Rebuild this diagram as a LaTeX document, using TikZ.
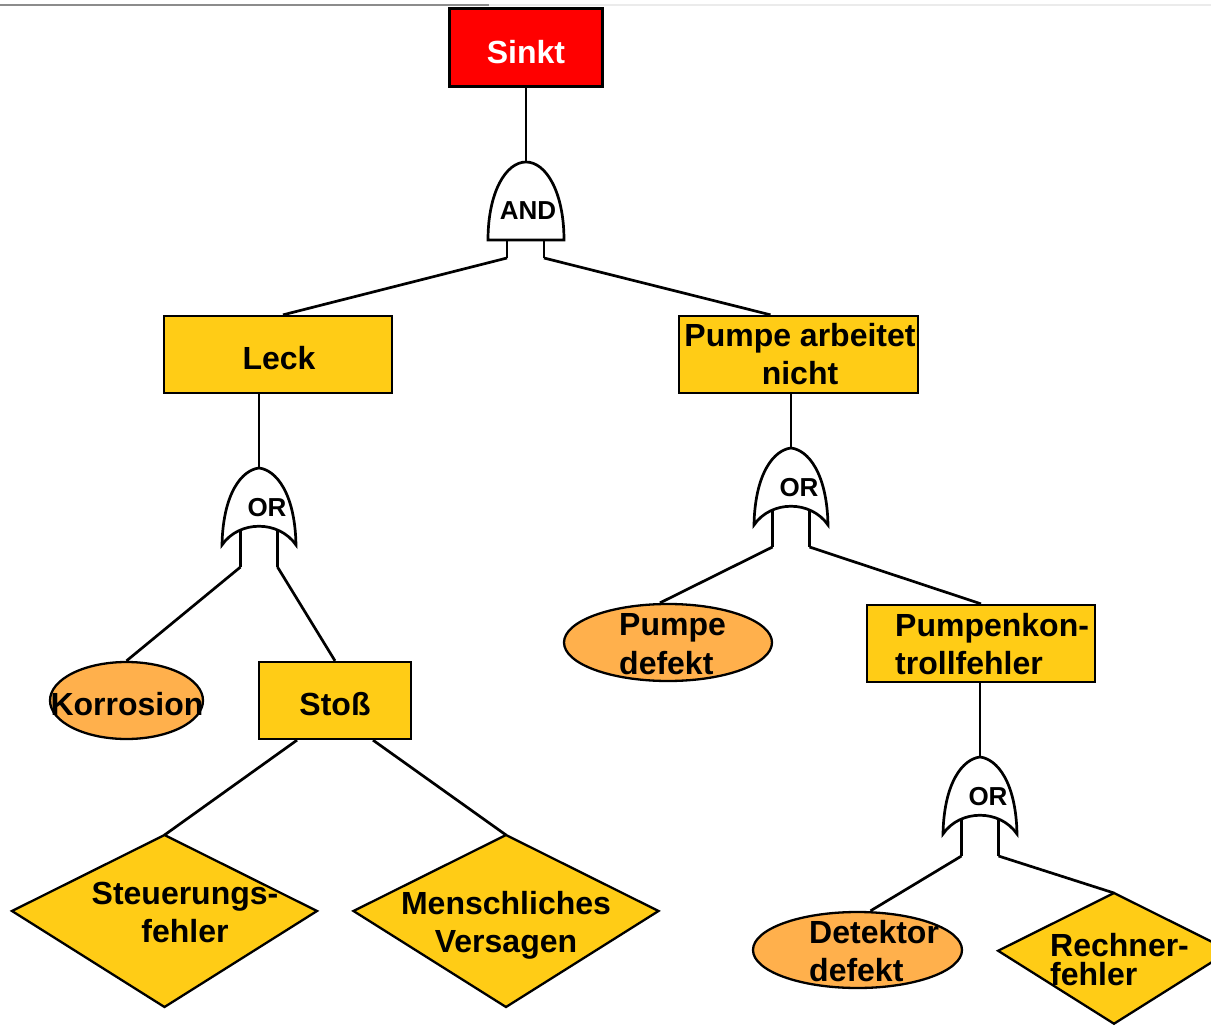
\documentclass[tikz,border=0pt]{standalone}
\usepackage{fontspec}
\setmainfont{Liberation Sans}
\usetikzlibrary{shapes.geometric,calc}

\definecolor{topred}{RGB}{255,0,0}
\definecolor{evtyellow}{RGB}{255,204,22}
\definecolor{basicorange}{RGB}{255,176,76}

\begin{document}
\begin{tikzpicture}[x=1pt,y=-1pt,
  conn/.style={line width=2.7pt},
  outline/.style={draw=black,line width=2.3pt},
  box/.style={outline,fill=evtyellow,rectangle,inner sep=0pt},
  basic/.style={outline,fill=basicorange,ellipse,inner sep=0pt},
  lbl/.style={font=\fontsize{32}{38.5}\selectfont\bfseries,inner sep=0pt,
              text depth=0pt},
  gatetxt/.style={font=\fontsize{26}{30}\selectfont\bfseries,inner sep=0pt},
  % OR gate: apex at the origin, inputs below
  orgate/.pic={
    \draw[line width=2.7pt,fill=white] (0,0) .. controls (17,2) and (36,25) .. (37,77)
        .. controls (20,52) and (-20,52) .. (-37,77)
        .. controls (-36,25) and (-17,2) .. cycle;
    \draw[line width=2.7pt] (-18.5,61) -- (-18.5,99) (18.5,61) -- (18.5,99);
    \coordinate (-out) at (0,0);
    \coordinate (-a) at (-18.5,99);
    \coordinate (-b) at (18.5,99);
    \node[gatetxt] (-lbl) at (8,40) {OR};
  },
  % AND gate: apex at the origin, flat base
  andgate/.pic={
    \draw[line width=2.7pt,fill=white] (-38,78) .. controls (-38,30) and (-20,0) .. (0,0)
        .. controls (20,0) and (38,30) .. (38,78) -- cycle;
    \draw[line width=2.7pt] (-19,78) -- (-19,96) (18,78) -- (18,96);
    \coordinate (-out) at (0,0);
    \coordinate (-a) at (-19,96);
    \coordinate (-b) at (18,96);
    \node[gatetxt] (-lbl) at (2,49) {AND};
  },
  % undeveloped event: diamond hanging from its top corner
  undev/.pic={
    \draw[line width=2.3pt,fill=evtyellow] (0,0) -- (152.5,76) -- (0,172) -- (-152.5,76) -- cycle;
    \coordinate (-top) at (0,0);
  }
]
\useasboundingbox (0,0) rectangle (1211,1027);
\fill[white] (0,0) rectangle (1211,1027);

% thin rules along the upper edge
\draw[line width=1.2pt,black!45] (0,5) -- (489,5);
\draw[line width=1.2pt,black!8] (489,5) -- (1211,5);

% events
\node[box,fill=topred,line width=3pt,minimum width=153pt,minimum height=78pt] (sinkt) at (525.5,48) {};
\node[box,minimum width=228pt,minimum height=77pt] (leck) at (278,354.5) {};
\node[box,minimum width=239pt,minimum height=77pt] (pumpe) at (798.5,354.5) {};
\node[box,minimum width=152pt,minimum height=77pt] (stoss) at (335,700.5) {};
\node[box,minimum width=228pt,minimum height=77pt] (pk) at (981,643.5) {};

\node[basic,minimum width=153pt,minimum height=77pt] (korr) at (126.5,700.5) {};
\node[basic,minimum width=208pt,minimum height=77pt] (pdef) at (668,642.5) {};
\node[basic,minimum width=209pt,minimum height=76pt] (det) at (857.5,950) {};

\pic (steuer) at (164.5,835) {undev};
\pic (mensch) at (506,835) {undev};
\pic[scale=0.76] (rech) at (1114,893) {undev};

% gates
\pic (and) at (526,162) {andgate};
\pic (or1) at (259,468) {orgate};
\pic (or2) at (791,448) {orgate};
\pic (or3) at (980,757) {orgate};

% labels
\node[lbl,text=white] (sinkt-t) at (526,51.5) {Sinkt};
\node[lbl] (leck-t) at (279,357.5) {Leck};
\node[lbl,align=center] (pumpe-t) at (800,354) {Pumpe arbeitet\\nicht};
\node[lbl] (stoss-t) at (335,704) {Stoß};
\node[lbl] (korr-t) at (127,704) {Korrosion};
\node[lbl,align=left,anchor=west] (pdef-t) at (619,644) {Pumpe\\defekt};
\node[lbl,align=left,anchor=west] (pk-t) at (895,644) {Pumpenkon-\\trollfehler};
\node[lbl,align=center] (steuer-t) at (185,912.5) {Steuerungs-\\fehler};
\node[lbl,align=center] (mensch-t) at (506,922) {Menschliches\\Versagen};
\node[lbl,align=left,anchor=west] (det-t) at (809,951) {Detektor\\defekt};
\node[lbl,align=left,anchor=west,font=\fontsize{32}{29}\selectfont\bfseries] (rech-t) at (1050,959.5) {Rechner-\\fehler};

% connectors
\draw[conn] (sinkt.south -| and-out) -- (and-out);
\draw[conn] (and-a) -- ($(leck.north)+(5,0)$);
\draw[conn] (and-b) -- ($(pumpe.north)+(-28,0)$);
\draw[conn] (leck.south -| or1-out) -- (or1-out);
\draw[conn] (or1-a) -- (korr.north);
\draw[conn] (or1-b) -- (stoss.north);
\draw[conn] ($(stoss.south)+(-38,0)$) -- (steuer-top);
\draw[conn] ($(stoss.south)+(38,0)$) -- (mensch-top);
\draw[conn] (pumpe.south -| or2-out) -- (or2-out);
\draw[conn] (or2-a) -- ($(pdef.north)+(-8,0)$);
\draw[conn] (or2-b) -- (pk.north);
\draw[conn] (pk.south -| or3-out) -- (or3-out);
\draw[conn] (or3-a) -- ($(det.north)+(13,0)$);
\draw[conn] (or3-b) -- (rech-top);
\end{tikzpicture}
\end{document}
